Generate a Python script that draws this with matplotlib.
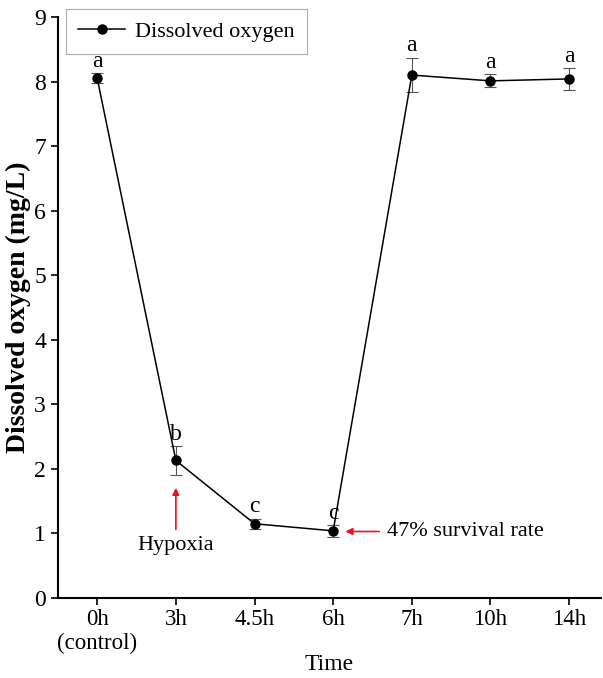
import matplotlib.pyplot as plt
import numpy as np

plt.rcParams['font.family'] = 'Liberation Serif'

# dissolved oxygen over the hypoxia / reoxygenation time course
times = ['0h\n(control)', '3h', '4.5h', '6h', '7h', '10h', '14h']
do_mean = [8.05, 2.13, 1.15, 1.04, 8.10, 8.01, 8.04]
do_err = [0.08, 0.22, 0.08, 0.09, 0.27, 0.10, 0.17]
letters = ['a', 'b', 'c', 'c', 'a', 'a', 'a']

fig = plt.figure(figsize=(6.03, 6.78), dpi=100)
ax = fig.add_axes([0.096, 0.118, 0.9, 0.857])

x = np.arange(len(times))
ax.errorbar(x, do_mean, yerr=do_err, fmt='none', ecolor='#555555',
            elinewidth=0.8, capsize=4, capthick=0.8)
ax.plot(x, do_mean, color='black', lw=1.1, marker='o', markersize=6.5,
        label='Dissolved oxygen')

for xi, m, e, s in zip(x, do_mean, do_err, letters):
    ax.text(xi, m + e + 0.02, s, ha='center', va='bottom', fontsize=17)

# annotations
ax.annotate('', xy=(1, 1.75), xytext=(1, 1.02),
            arrowprops=dict(arrowstyle='-|>', color='#e8141c', lw=1.2,
                            mutation_scale=10))
ax.text(1, 0.96, 'Hypoxia', ha='center', va='top', fontsize=16)
ax.annotate('', xy=(3.12, 1.03), xytext=(3.62, 1.03),
            arrowprops=dict(arrowstyle='-|>', color='#e8141c', lw=1.2,
                            mutation_scale=10))
ax.text(3.68, 1.03, '47% survival rate', ha='left', va='center',
        fontsize=16)

ax.set_xlim(-0.5, 6.4)
ax.set_ylim(0, 9)
ax.set_xticks(x)
ax.set_xticklabels(times, fontsize=16.5, linespacing=1.15)
ax.set_yticks(range(10))
ax.tick_params(axis='y', labelsize=17, direction='out', length=5, width=1.2)
ax.tick_params(axis='x', direction='out', length=5, width=1.2, pad=3)
ax.spines['top'].set_visible(False)
ax.spines['right'].set_visible(False)
ax.spines['left'].set_linewidth(1.5)
ax.spines['bottom'].set_linewidth(1.5)

ax.set_xlabel('Time', fontsize=17, labelpad=0)
ax.set_ylabel('Dissolved oxygen (mg/L)', fontsize=20, fontweight='bold',
              labelpad=2)

leg = ax.legend(loc='upper left', bbox_to_anchor=(66 / 603, 1 - 9 / 678),
                bbox_transform=fig.transFigure, fontsize=16, frameon=True,
                fancybox=False, borderaxespad=0, handlelength=2.1,
                handletextpad=0.45, borderpad=0.55)
leg.get_frame().set_edgecolor('#999999')
leg.get_frame().set_linewidth(0.8)

fig.savefig('out.png', dpi=100)
